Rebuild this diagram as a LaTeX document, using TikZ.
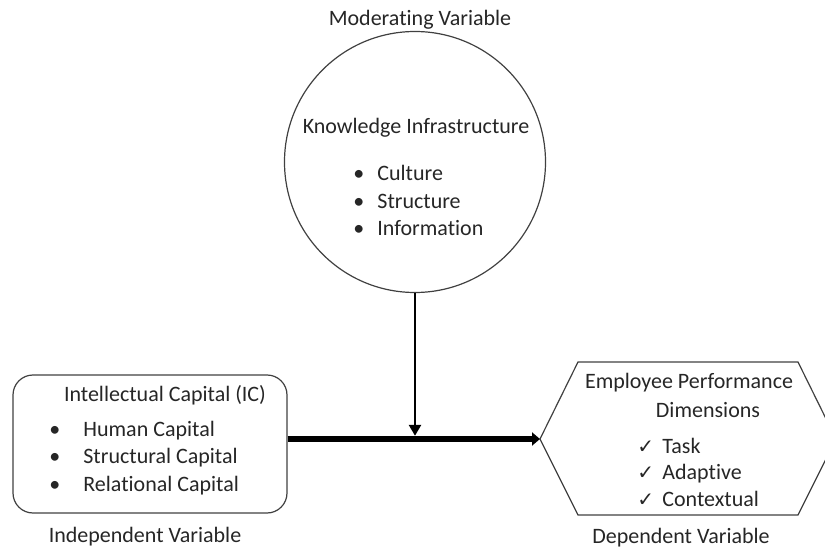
\documentclass[tikz,border=0pt]{standalone}
\usepackage{fontspec}
\setmainfont[Ligatures=NoCommon]{Carlito}
\newfontfamily\symfont{DejaVu Sans}
\usetikzlibrary{arrows.meta}

\begin{document}
\begin{tikzpicture}[x=0.5pt, y=-0.5pt,
	every node/.style={font=\fontsize{11}{13.5}\selectfont, text=black!85, inner sep=0pt},
	outline/.style={draw=black!75, line width=0.6pt},
	item/.style={anchor=base west},
	tick/.style={anchor=base west, font=\symfont\fontsize{10}{13.5}\selectfont},
	mainarrow/.style={line width=3.2pt, -{Triangle[length=4pt, width=6.5pt]}},
	modarrow/.style={line width=1.3pt, -{Triangle[length=5.5pt, width=6pt]}}]
	\useasboundingbox (0,0) rectangle (825,551);
	% moderator (kreis)
	\node[outline, circle, minimum size=130.5pt] (ki) at (415,162) {};
	\node (modlabel) at (420,20) {Moderating Variable};
	\node (kititle) at (416,128) {Knowledge Infrastructure};
	\node[item] (kb1) at (353,181) {\textbullet};
	\node[item] (kb2) at (353,208) {\textbullet};
	\node[item] (kb3) at (353,235) {\textbullet};
	\node[item] (ki1) at (377,181) {Culture};
	\node[item] (ki2) at (377,208) {Structure};
	\node[item] (ki3) at (377,235) {Information};
	% unabhaengige variable
	\node[outline, rectangle, rounded corners=10pt, minimum width=137pt,
		minimum height=69pt] (ic) at (150,444) {};
	\node (ictitle) at (165,395) {Intellectual Capital (IC)};
	\node[item] (ib1) at (49,436) {\textbullet};
	\node[item] (ib2) at (49,463) {\textbullet};
	\node[item] (ib3) at (49,491) {\textbullet};
	\node[item] (ic1) at (83,436) {Human Capital};
	\node[item] (ic2) at (83,463) {Structural Capital};
	\node[item] (ic3) at (83,491) {Relational Capital};
	\node (indlabel) at (145,537) {Independent Variable};
	% abhaengige variable (sechseck)
	\draw[outline] (540,439) coordinate (ep) -- (578,362) -- (798,362)
		-- (836,439) -- (798,515) -- (578,515) -- cycle;
	\node (eptitle) at (689,383) {Employee Performance};
	\node (eptitle2) at (708,410) {Dimensions};
	\node[tick] (ec1) at (637,453) {✓};
	\node[tick] (ec2) at (637,479) {✓};
	\node[tick] (ec3) at (637,506) {✓};
	\node[item] (ep1) at (662,453) {Task};
	\node[item] (ep2) at (662,479) {Adaptive};
	\node[item] (ep3) at (662,506) {Contextual};
	\node (deplabel) at (681,538) {Dependent Variable};
	% pfeile
	\draw[mainarrow] (ic.east |- ep) -- (ep);
	\draw[modarrow, shorten >=1.6pt] (ki.south) -- (ki.south |- ep);
\end{tikzpicture}
\end{document}
